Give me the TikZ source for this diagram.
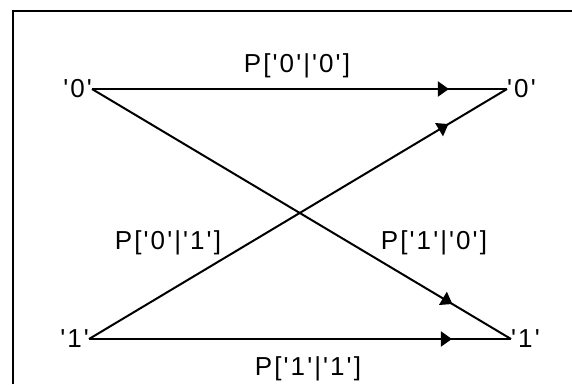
\documentclass[tikz,border=0pt]{standalone}
\usepackage{fontspec}
\newfontfamily\chanfont{Liberation Sans}[LetterSpace=8]
\usetikzlibrary{arrows.meta,decorations.markings}
\tikzset{
  sym/.style={inner sep=0pt, font=\chanfont\fontsize{26}{26}\selectfont},
  prob/.style={inner sep=0pt, font=\chanfont\fontsize{26}{26}\selectfont},
  flow/.style={line width=2pt, postaction={decorate},
    decoration={markings, mark=at position 0.86 with {\arrow{Triangle[length=11pt,width=15pt]}}}}
}
\begin{document}
\begin{tikzpicture}[x=1pt,y=-1pt]
\useasboundingbox (0,0) rectangle (572,384);
% frame (cut at right and bottom)
\draw[line width=2pt] (13,384) -- (13,11) -- (572,11);
% inputs and outputs
\node[sym, anchor=east] (in0) at (92,89) {'0'};
\node[sym, anchor=east] (in1) at (89,339) {'1'};
\node[sym, anchor=west] (out0) at (507,89) {'0'};
\node[sym, anchor=west] (out1) at (511,339) {'1'};
\draw[flow] (in0.east) -- (out0.west);
\draw[flow] (in1.east) -- (out1.west);
\draw[flow] (in0.east) -- (out1.west);
\draw[flow] (in1.east) -- (out0.west);
% transition probabilities
\node[prob] (p00) at (297,66) {P['0'|'0']};
\node[prob] (p01) at (168,243) {P['0'|'1']};
\node[prob] (p10) at (434,243) {P['1'|'0']};
\node[prob] (p11) at (308,369) {P['1'|'1']};
\end{tikzpicture}
\end{document}
